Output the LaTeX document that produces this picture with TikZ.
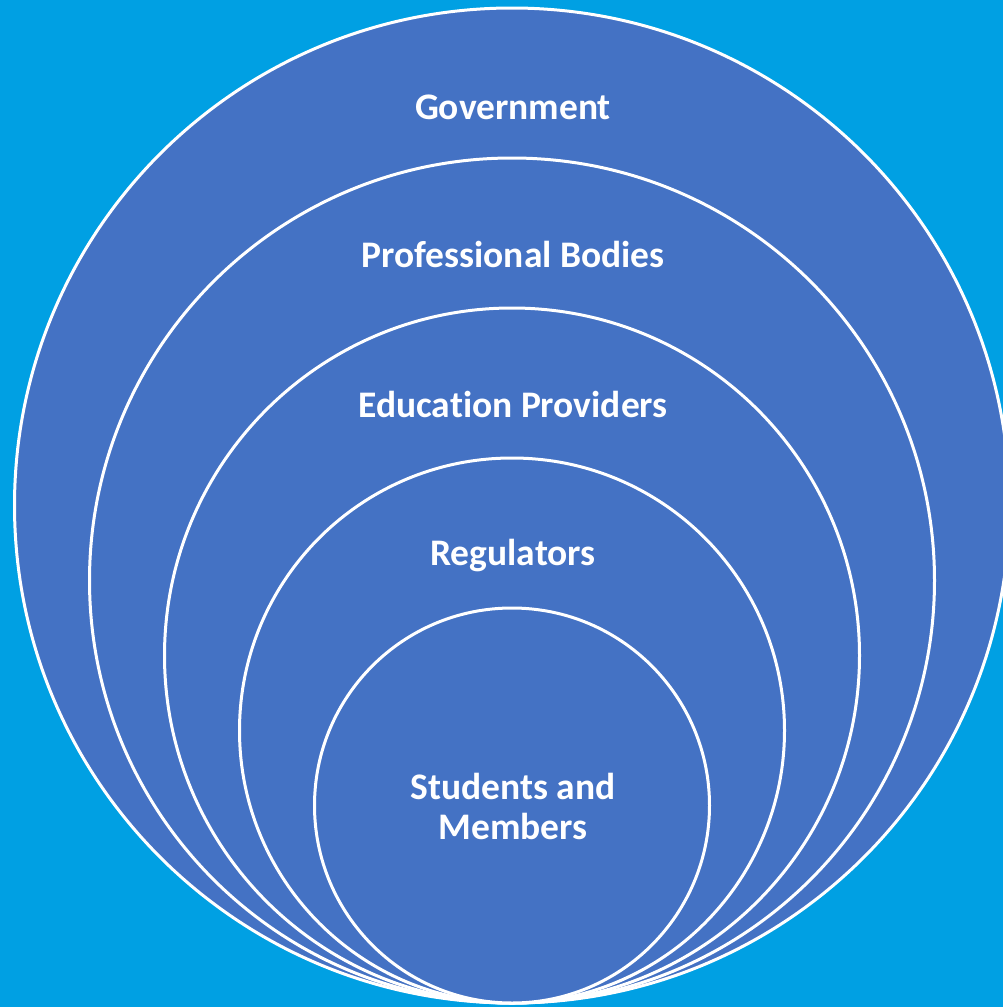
\documentclass[tikz,border=0pt]{standalone}
\usepackage{fontspec}
\setmainfont{Carlito}[Ligatures=NoCommon]
\definecolor{bgblue}{RGB}{0,160,227}
\definecolor{ringblue}{RGB}{68,114,196}
\begin{document}
\begin{tikzpicture}[x=1pt,y=-1pt,
  ring/.style={fill=ringblue,draw=white,line width=3pt},
  lbl/.style={text=white,font=\fontsize{37.5}{40}\selectfont\bfseries,align=center,inner sep=0pt}]
\fill[bgblue] (0,0) rectangle (1003,1007);
\useasboundingbox (0,0) rectangle (1003,1007);
\begin{scope}
\clip (0,0) rectangle (1003,1007);
% nested circles, all touching at the bottom point
\draw[ring] (512,505.5) circle[radius=497.5];
\draw[ring] (512,580.5) circle[radius=422.5];
\draw[ring] (512,655.5) circle[radius=347.5];
\draw[ring] (512,730.5) circle[radius=272.5];
\draw[ring] (512,805.5) circle[radius=197.5];
\end{scope}
\node[lbl] (gov) at (513,107) {Government};
\node[lbl] (prof) at (513,254) {Professional Bodies};
\node[lbl] (edu) at (513,404) {Education Providers};
\node[lbl] (reg) at (513,556) {Regulators};
\node[lbl] (stu) at (513,806) {Students and\\Members};
\end{tikzpicture}
\end{document}
